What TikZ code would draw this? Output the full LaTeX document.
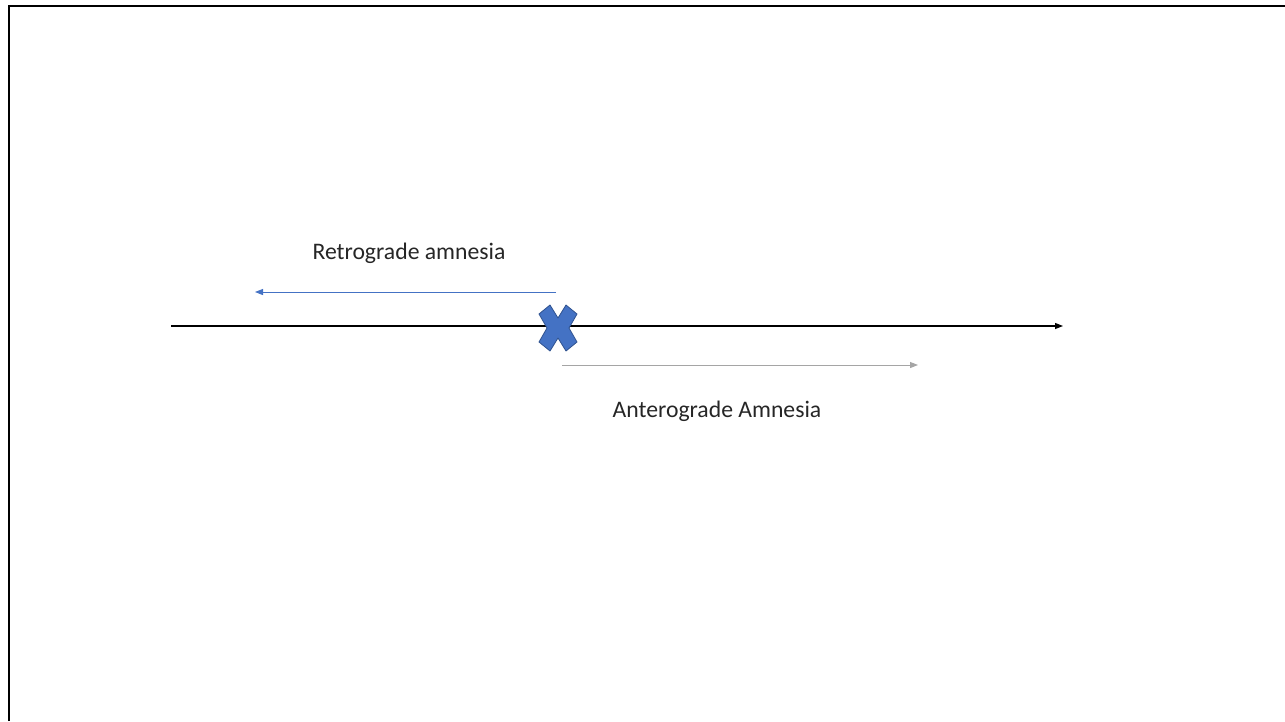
\documentclass[tikz,border=0pt]{standalone}
\usepackage{fontspec}
\setmainfont{Carlito}
\usepackage{tikz}
\usetikzlibrary{calc,arrows.meta}
\definecolor{xblue}{HTML}{4472C4}
\definecolor{xedge}{HTML}{2F528F}
\definecolor{agray}{HTML}{A5A5A5}

\begin{document}
\begin{tikzpicture}[x=1pt,y=-1pt,>={Triangle[length=8pt,width=6pt]},semithick,
		label/.style={font=\fontsize{23.7}{28}\selectfont,text=black!85,inner sep=0pt}]
		\useasboundingbox (0,0) rectangle (1285,721);
		% frame
		\draw[line width=2.6pt] (9,721) -- (9,6) -- (1285,6);
		
		\coordinate (t0) at (171,326);
		\coordinate (t1) at (1063,326);
		\coordinate (r0) at (556,292);
		\coordinate (r1) at (255,292);
		\coordinate (a0) at (562,365);
		\coordinate (a1) at (918,365);
		
		\path[->,line width=1.3pt] (t0) edge (t1);
		\path[->,xblue,line width=1pt] (r0) edge (r1);
		\path[->,agray,line width=1pt] (a0) edge (a1);
		
		\node[label] (retro) at (409,253) {Retrograde amnesia};
		\node[label] (antero) at (717,411) {Anterograde Amnesia};
		
		% the cross
		\coordinate (c) at (558,328);
		\fill[xblue,draw=xedge,line width=0.8pt,line join=round]
			($(c)+(-19,-14)$) -- ($(c)+(-8,-23)$) -- ($(c)+(0,-10)$) -- ($(c)+(8,-23)$)
			-- ($(c)+(19,-14)$) -- ($(c)+(11,0)$) -- ($(c)+(19,14)$) -- ($(c)+(8,23)$)
			-- ($(c)+(0,10)$) -- ($(c)+(-8,23)$) -- ($(c)+(-19,14)$) -- ($(c)+(-11,0)$) -- cycle;
\end{tikzpicture}
\end{document}
